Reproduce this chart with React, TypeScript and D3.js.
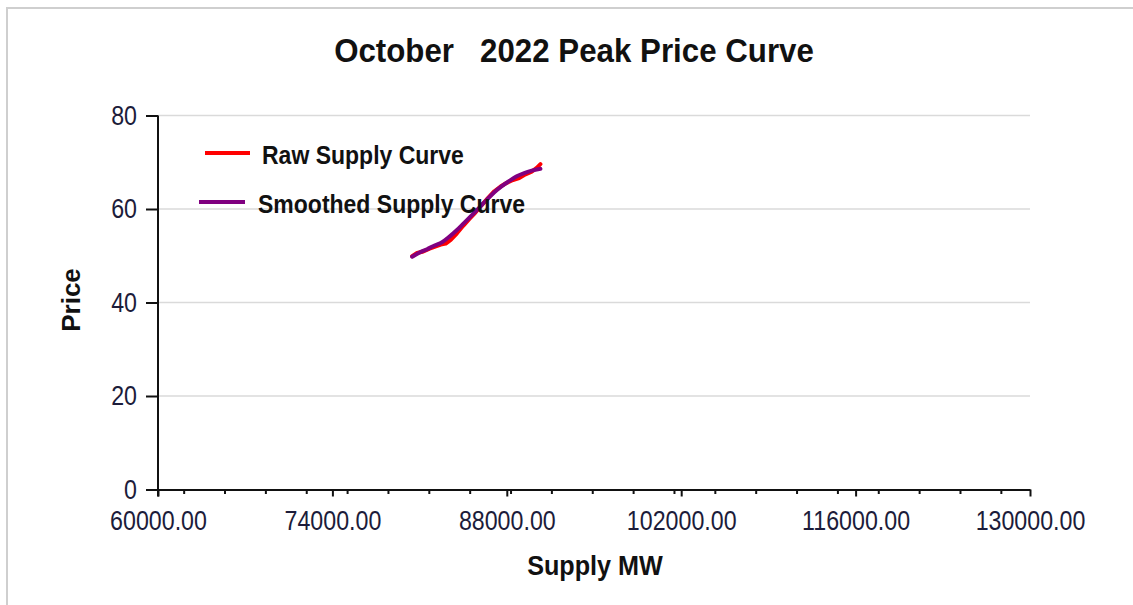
import React, { useEffect, useRef } from "react";
import * as d3 from "d3";

// raw supply curve (MW, price)
const rawMW = [80400, 80800, 81300, 81800, 82300, 82700, 83100, 83500, 84000, 84500, 85000, 85500, 86000, 86500, 87000, 87500, 88000, 88500, 89000, 89500, 90000, 90400, 90700];
const rawPrice = [49.9, 50.6, 50.9, 51.5, 52.0, 52.4, 52.6, 53.4, 54.8, 56.4, 57.9, 59.3, 60.9, 62.4, 63.8, 64.8, 65.6, 66.2, 66.6, 67.4, 68.0, 68.8, 69.6];

// smoothed supply curve
const smoothMW = [80400, 81000, 81600, 82200, 82800, 83400, 84000, 84600, 85200, 85800, 86400, 87000, 87600, 88200, 88800, 89400, 90000, 90700];
const smoothPrice = [49.8, 50.7, 51.4, 52.2, 52.9, 54.1, 55.5, 57.1, 58.7, 60.3, 62.0, 63.6, 64.9, 66.0, 67.0, 67.7, 68.2, 68.6];

const xTicks = [60000, 74000, 88000, 102000, 116000, 130000];
const yTicks = [0, 20, 40, 60, 80];
const xMinorStart = 62100;
const xMinorStep = 3280;

const legendItems = ["Raw Supply Curve", "Smoothed Supply Curve"];
const seriesColors = ["#ff0000", "#800080"];

const font = "'Liberation Sans', Arial, sans-serif";

function App() {
  const svgRef = useRef<SVGSVGElement>(null);

  const width = 1133;
  const height = 605;
  const plot = { left: 158, right: 1030, top: 115.5, bottom: 489.5 };

  useEffect(() => {
    const svg = d3.select(svgRef.current);
    svg.selectAll("*").remove();

    const x = d3.scaleLinear().domain([60000, 130000]).range([plot.left, plot.right]);
    const y = d3.scaleLinear().domain([0, 80]).range([plot.bottom, plot.top]);

    // narrow-looking text: squeeze horizontally around the anchor point
    const label = (tx: number, ty: number, txt: string, size: number, sx: number, bold = true, anchor = "start", rot = 0) =>
      svg.append("text")
        .attr("transform", `translate(${tx},${ty}) rotate(${rot}) scale(${sx},1)`)
        .attr("text-anchor", anchor)
        .attr("font-family", font)
        .attr("font-weight", bold ? "bold" : "normal")
        .attr("font-size", size)
        .attr("fill", "#111")
        .style("white-space", "pre")
        .text(txt);

    // outer frame (top + left only)
    svg.append("path")
      .attr("d", `M7,${height} V8 H${width}`)
      .attr("fill", "none")
      .attr("stroke", "#cfcfcf")
      .attr("stroke-width", 2);

    // title
    label(574, 62, "October   2022 Peak Price Curve", 34, 0.92, true, "middle");

    // gridlines
    svg.append("g")
      .selectAll("line")
      .data(yTicks.filter((t) => t > 0))
      .join("line")
      .attr("x1", plot.left)
      .attr("x2", plot.right)
      .attr("y1", (d) => y(d))
      .attr("y2", (d) => y(d))
      .attr("stroke", "#dadada")
      .attr("stroke-width", 1.5);

    const sq = 0.86;

    // y axis
    const gy = svg.append("g")
      .attr("transform", `translate(${plot.left},0)`)
      .call(d3.axisLeft(y).tickValues(yTicks).tickSize(12).tickSizeOuter(0).tickPadding(8));
    gy.select(".domain").attr("stroke", "#111").attr("stroke-width", 2).attr("d", `M0,${plot.top}V${plot.bottom + 7}`);
    gy.selectAll(".tick line").attr("stroke", "#111").attr("stroke-width", 2);
    gy.selectAll(".tick text")
      .attr("x", -21 / sq)
      .attr("transform", `scale(${sq},1)`)
      .attr("font-family", font)
      .attr("font-size", 27)
      .attr("fill", "#1c1c3a");

    // x axis minor ticks
    const minor = d3.range(xMinorStart, 130000, xMinorStep);
    svg.append("g")
      .selectAll("line")
      .data(minor)
      .join("line")
      .attr("x1", (d) => x(d))
      .attr("x2", (d) => x(d))
      .attr("y1", plot.bottom)
      .attr("y2", plot.bottom + 4.5)
      .attr("stroke", "#111")
      .attr("stroke-width", 2);

    // x axis
    const gx = svg.append("g")
      .attr("transform", `translate(0,${plot.bottom})`)
      .call(d3.axisBottom(x).tickValues(xTicks).tickFormat(d3.format(".2f")).tickSize(7).tickSizeOuter(0).tickPadding(14));
    gx.select(".domain").attr("stroke", "#111").attr("stroke-width", 2);
    gx.selectAll(".tick line").attr("stroke", "#111").attr("stroke-width", 2);
    gx.selectAll(".tick text")
      .attr("transform", `scale(${sq},1)`)
      .attr("font-family", font)
      .attr("font-size", 27)
      .attr("fill", "#1c1c3a");

    // axis titles
    label(80, 300, "Price", 26, 1, true, "middle", -90);
    label(595, 575, "Supply MW", 28, 0.9, true, "middle");

    // series
    const line = d3.line<[number, number]>()
      .x((d) => x(d[0]))
      .y((d) => y(d[1]));

    const raw: [number, number][] = rawMW.map((m, i) => [m, rawPrice[i]]);
    const smooth: [number, number][] = smoothMW.map((m, i) => [m, smoothPrice[i]]);

    svg.append("path")
      .attr("d", line(raw))
      .attr("fill", "none")
      .attr("stroke", seriesColors[0])
      .attr("stroke-width", 4)
      .attr("stroke-linejoin", "round")
      .attr("stroke-linecap", "round");

    svg.append("path")
      .attr("d", line.curve(d3.curveMonotoneX)(smooth))
      .attr("fill", "none")
      .attr("stroke", seriesColors[1])
      .attr("stroke-width", 4)
      .attr("stroke-linejoin", "round")
      .attr("stroke-linecap", "round");

    // legend
    const legendPos = [
      { x1: 205, x2: 250, y: 153, tx: 262 },
      { x1: 199, x2: 245, y: 202, tx: 258 },
    ];
    legendItems.forEach((name, i) => {
      const p = legendPos[i];
      svg.append("line")
        .attr("x1", p.x1)
        .attr("x2", p.x2)
        .attr("y1", p.y)
        .attr("y2", p.y)
        .attr("stroke", seriesColors[i])
        .attr("stroke-width", 4);
      label(p.tx, p.y + 11, name, 25, 0.92);
    });
  }, []);

  return (
    <svg
      ref={svgRef}
      width={width}
      height={height}
      style={{ position: "absolute", left: 0, top: 0, background: "#fff" }}
    />
  );
}

export default App;
